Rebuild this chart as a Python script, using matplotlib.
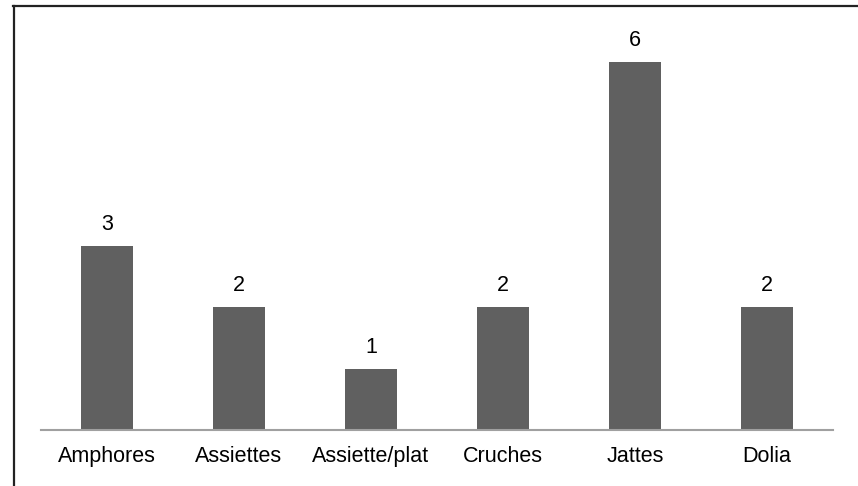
import matplotlib
matplotlib.use("Agg")
import matplotlib.pyplot as plt
from matplotlib.lines import Line2D

categories = ["Amphores", "Assiettes", "Assiette/plat", "Cruches", "Jattes", "Dolia"]
values = [3, 2, 1, 2, 6, 2]

W, H = 858, 486
fig = plt.figure(figsize=(W / 100, H / 100), dpi=100)
plt.rcParams['font.family'] = ['Liberation Sans', 'DejaVu Sans']

left, right, base = 41, 833, 430
ax = fig.add_axes([left / W, (H - base) / H, (right - left) / W, (base - 2) / H])
x = list(range(len(categories)))
ax.bar(x, values, width=0.4, color="#606060", zorder=2)
ax.set_xlim(-0.5, len(categories) - 0.5)
ax.set_ylim(0, 6 * (base - 2) / 368)
for xi, v in zip(x, values):
    ax.annotate(str(v), (xi, v), xytext=(0, 8), textcoords="offset points",
                ha="center", va="bottom", fontsize=15.5, color="black")
ax.set_xticks(x)
ax.set_xticklabels(categories, fontsize=15.5)
ax.tick_params(axis="x", length=0, pad=11.5)
ax.set_yticks([])
for s in ["top", "right", "left"]:
    ax.spines[s].set_visible(False)
ax.spines["bottom"].set_color("#a0a0a0")
ax.spines["bottom"].set_linewidth(1.5)
ax.patch.set_alpha(0)

# outer frame (top and left)
fig.add_artist(Line2D([13 / W, 1], [1 - 6.5 / H, 1 - 6.5 / H], transform=fig.transFigure,
                      color="#222222", lw=1.6))
fig.add_artist(Line2D([13.5 / W, 13.5 / W], [0, 1 - 6.5 / H], transform=fig.transFigure,
                      color="#222222", lw=1.6))

fig.savefig("out.png", dpi=100)
